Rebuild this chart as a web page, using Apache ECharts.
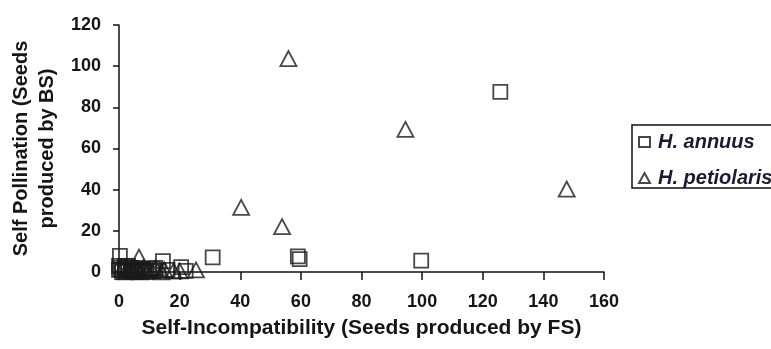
<!DOCTYPE html>
<html>
<head>
<meta charset="utf-8">
<script src="https://cdn.jsdelivr.net/npm/echarts@6/dist/echarts.min.js"></script>
<style>
html,body{margin:0;padding:0;background:#fff;}
#chart{width:771px;height:349px;}
</style>
</head>
<body>
<div id="chart"></div>
<script>
// Data
const xTicks = [0, 20, 40, 60, 80, 100, 120, 140, 160];
const yTicks = [0, 20, 40, 60, 80, 100, 120];
const seriesNames = ['H. annuus', 'H. petiolaris'];

// H. annuus: FS seeds (x) and BS seeds (y)
const annuusFS = [0.3, 30.9, 59, 59.6, 99.7, 125.8, 14.5, 20.5, 12, 2, 4, 6, 1, 3, 8, 16, 22, 5, 10, 0.5,
                  1, 2, 3, 4, 5, 6, 7, 9, 0, 0, 2, 11, 13];
const annuusBS = [7.8, 7.1, 7.6, 6.3, 5.5, 87.5, 5.3, 2.4, 2, 1, 0.5, 2, 0, 3, 1, 1, 0.5, 0, 0.5, 2,
                  1, 2, 0.5, 2, 1, 0.5, 1.5, 0, 3, 1, 3, 1.5, 0.5];

// H. petiolaris: FS seeds (x) and BS seeds (y)
const petiolarisFS = [55.9, 94.5, 147.7, 40.3, 53.8, 6.6, 25.4, 3, 5, 8, 11, 2, 18, 1,
                      4, 6, 7, 9, 10, 12, 14, 15, 20];
const petiolarisBS = [103.7, 69.3, 40.3, 31.4, 22, 7.2, 1, 1, 0.5, 2, 0.5, 0, 0.5, 1.5,
                      1.5, 1, 0, 1.5, 1, 2, 0, 1, 0.5];

function pairs(xs, ys) { return xs.map((x, i) => [x, ys[i]]); }

const chart = echarts.init(document.getElementById('chart'));
const font = 'Liberation Sans, Arial, sans-serif';
const textColor = '#151515';
const markerStyle = { color: 'rgba(255,255,255,0)', borderColor: '#1a1a1a', borderWidth: 1.8 };

chart.setOption({
  animation: false,
  backgroundColor: '#fff',
  grid: { left: 119, right: 167, top: 25, bottom: 77 },
  legend: {
    orient: 'vertical',
    left: 632, top: 125,
    padding: [7, 10, 0, 6],
    itemGap: 16,
    itemWidth: 11, itemHeight: 10,
    borderColor: '#111', borderWidth: 1.5,
    textStyle: { fontFamily: font, fontSize: 20, fontWeight: 'bold', fontStyle: 'italic', color: '#1a1a33', padding: [0, 0, 0, 3] },
    data: seriesNames
  },
  xAxis: {
    type: 'value', min: xTicks[0], max: xTicks[xTicks.length - 1], interval: 20,
    name: 'Self-Incompatibility (Seeds produced by FS)',
    nameLocation: 'middle', nameGap: 46,
    nameTextStyle: { fontFamily: font, fontSize: 21, fontWeight: 'bold', color: textColor },
    axisLine: { lineStyle: { color: '#111', width: 1.5 } },
    axisTick: { length: 8, lineStyle: { color: '#111', width: 1.5 } },
    axisLabel: { margin: 21, fontFamily: font, fontSize: 18, fontWeight: 'bold', color: textColor },
    splitLine: { show: false }
  },
  yAxis: {
    type: 'value', min: yTicks[0], max: yTicks[yTicks.length - 1], interval: 20,
    name: 'Self Pollination (Seeds\nproduced by BS)',
    nameLocation: 'middle', nameGap: 56,
    nameTextStyle: { fontFamily: font, fontSize: 20, fontWeight: 'bold', color: textColor, lineHeight: 26 },
    axisLine: { show: true, lineStyle: { color: '#111', width: 1.5 } },
    axisTick: { show: true, length: 6, lineStyle: { color: '#111', width: 1.5 } },
    axisLabel: { margin: 18, fontFamily: font, fontSize: 18, fontWeight: 'bold', color: textColor },
    splitLine: { show: false }
  },
  series: [
    { name: seriesNames[0], type: 'scatter', symbol: 'rect', symbolSize: 14, clip: false,
      itemStyle: markerStyle, data: pairs(annuusFS, annuusBS) },
    { name: seriesNames[1], type: 'scatter', symbol: 'triangle', symbolSize: [16, 15], clip: false,
      itemStyle: markerStyle, data: pairs(petiolarisFS, petiolarisBS) }
  ]
});
</script>
</body>
</html>
